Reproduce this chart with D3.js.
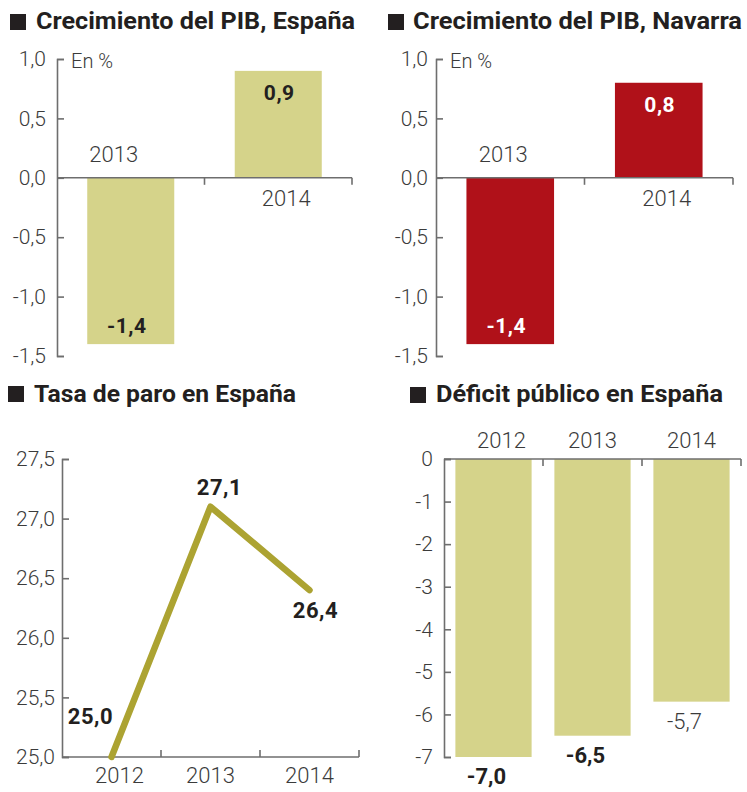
<!DOCTYPE html>
<html>
<head>
<meta charset="utf-8">
<script src="https://cdn.jsdelivr.net/npm/d3@7"></script>
<style>
  body { margin: 0; background: #fff; }
  svg { display: block; }
  .tick text, .lbl { font-family: Roboto, "Liberation Sans", sans-serif; font-weight: 300; fill: #3b3b3b; }
  .ttl { font-family: Roboto, "Liberation Sans", sans-serif; font-weight: 700; fill: #231f20; }
  .val { font-family: Roboto, "Liberation Sans", sans-serif; font-weight: 700; }
</style>
</head>
<body>
<svg id="chart" width="747" height="792"></svg>
<script>
// GDP growth, %
const pibYears = ["2013", "2014"];
const pibEspana = [-1.4, 0.9];
const pibNavarra = [-1.4, 0.8];
const pibTicks = [1.0, 0.5, 0.0, -0.5, -1.0, -1.5];

// unemployment rate, %
const paroYears = ["2012", "2013", "2014"];
const paroValues = [25.0, 27.1, 26.4];
const paroTicks = [25.0, 25.5, 26.0, 26.5, 27.0, 27.5];

// public deficit, % of GDP
const deficitYears = ["2012", "2013", "2014"];
const deficitValues = [-7.0, -6.5, -5.7];
const deficitTicks = [0, -1, -2, -3, -4, -5, -6, -7];

const titles = ["Crecimiento del PIB, España", "Crecimiento del PIB, Navarra",
                "Tasa de paro en España", "Déficit público en España"];

const olive = "#d5d38a", red = "#b01119", lineColor = "#aca332", axisColor = "#6e6e6e";
// spanish decimal comma, plain hyphen for negatives
const fmt1 = d => d3.format(".1f")(d).replace(".", ",").replace("\u2212", "-");
const fmt0 = d => d3.format("d")(d).replace("\u2212", "-");

const svg = d3.select("#chart");

function title(txt, sq, x, y, len) {
    svg.append("rect").attr("x", sq[0]).attr("y", sq[1]).attr("width", 16).attr("height", 16).attr("fill", "#231f20");
    svg.append("text").attr("class", "ttl").attr("x", x).attr("y", y)
        .attr("font-size", 23).attr("textLength", len).attr("lengthAdjust", "spacingAndGlyphs")
        .text(txt);
}

function yAxis(y, x0, ticks, f, pad) {
    const g = svg.append("g").attr("transform", `translate(${x0},0)`)
        .call(d3.axisLeft(y).tickValues(ticks).tickFormat(f)
            .tickSizeInner(-7).tickSizeOuter(-7).tickPadding(pad));
    g.selectAll("path, line").attr("stroke", axisColor).attr("stroke-width", 1.6);
    g.selectAll("text").attr("font-size", 21);
    return g;
}

// category baseline with ticks at slot boundaries
function catAxis(x, y0, n, dir) {
    const g = svg.append("g");
    const [a, b] = x.range();
    g.append("line").attr("x1", a).attr("x2", b).attr("y1", y0).attr("y2", y0)
        .attr("stroke", axisColor).attr("stroke-width", 1.6);
    d3.range(1, n + 1).forEach(i => {
        const xx = a + x.step() * i;
        g.append("line").attr("x1", xx).attr("x2", xx).attr("y1", y0).attr("y2", y0 + dir * 7)
            .attr("stroke", axisColor).attr("stroke-width", 1.6);
    });
}

// ---- GDP panels ----
function pibPanel(values, x0, x1, color, valColor, pad, yearOffsets) {
    const y = d3.scaleLinear().domain([-1.5, 1]).range([356, 59]);
    const x = d3.scaleBand().domain(pibYears).range([x0, x1]).paddingInner(0.41).paddingOuter(0.205);

    svg.append("g").selectAll("rect").data(values).join("rect")
        .attr("x", (d, i) => x(pibYears[i]))
        .attr("y", d => y(Math.max(0, d)))
        .attr("width", x.bandwidth())
        .attr("height", d => Math.abs(y(d) - y(0)))
        .attr("fill", color);

    yAxis(y, x0, pibTicks, fmt1, pad);
    catAxis(x, y(0), pibYears.length, 1);

    svg.append("text").attr("class", "lbl").attr("x", x0 + 14).attr("y", 68)
        .attr("font-size", 20).text("En %");

    // year labels: above zero for negative bars, below for positive
    svg.append("g").selectAll("text").data(values).join("text")
        .attr("class", "lbl").attr("font-size", 22).attr("text-anchor", "middle")
        .attr("x", (d, i) => x(pibYears[i]) + x.bandwidth() / 2 + yearOffsets[i])
        .attr("y", d => d < 0 ? y(0) - 16 : y(0) + 28)
        .text((d, i) => pibYears[i]);

    svg.append("g").selectAll("text").data(values).join("text")
        .attr("class", "val").attr("font-size", 21).attr("fill", valColor).attr("text-anchor", "middle")
        .attr("letter-spacing", 0.5)
        .attr("x", (d, i) => x(pibYears[i]) + x.bandwidth() / 2 + (d < 0 ? -4 : 1))
        .attr("y", d => d < 0 ? y(d) - 11 : y(d) + 29)
        .text(fmt1);
}

title(titles[0], [10, 14], 36, 29, 319);
pibPanel(pibEspana, 57, 352, olive, "#231f20", 11, [-17, 8]);
title(titles[1], [388, 14], 413, 29, 329);
pibPanel(pibNavarra, 436, 733, red, "#ffffff", 8, [-7, 8]);

// ---- Unemployment line ----
{
    title(titles[2], [8, 386], 34, 402, 262);
    const y = d3.scaleLinear().domain([25, 27.5]).range([757, 459]);
    const x = d3.scaleBand().domain(paroYears).range([62, 359]);
    const cx = d => x(d) + x.bandwidth() / 2;

    yAxis(y, 62, paroTicks, fmt1, 7);
    catAxis(x, y(25), paroYears.length, -1);

    svg.append("g").selectAll("text").data(paroYears).join("text")
        .attr("class", "lbl").attr("font-size", 22).attr("text-anchor", "middle")
        .attr("x", (d, i) => cx(d) + (i === 0 ? 8 : 0)).attr("y", 783).text(d => d);

    const line = d3.line().x((d, i) => cx(paroYears[i])).y(d => y(d));
    svg.append("path").datum(paroValues).attr("d", line)
        .attr("fill", "none").attr("stroke", lineColor).attr("stroke-width", 6.5)
        .attr("stroke-linecap", "round").attr("stroke-linejoin", "round");

    const offs = [[-21, -33], [9, -12], [6, 28]];
    svg.append("g").selectAll("text").data(paroValues).join("text")
        .attr("class", "val").attr("font-size", 22).attr("fill", "#231f20").attr("text-anchor", "middle")
        .attr("letter-spacing", 0.5)
        .attr("x", (d, i) => cx(paroYears[i]) + offs[i][0])
        .attr("y", (d, i) => y(d) + offs[i][1])
        .text(fmt1);
}

// ---- Deficit bars ----
{
    title(titles[3], [410, 387], 436, 402, 287);
    const y = d3.scaleLinear().domain([-7, 0]).range([757, 459]);
    const x = d3.scaleBand().domain(deficitYears).range([444, 741]).paddingInner(0.23).paddingOuter(0.115);

    svg.append("g").selectAll("rect").data(deficitValues).join("rect")
        .attr("x", (d, i) => x(deficitYears[i]))
        .attr("y", y(0))
        .attr("width", x.bandwidth())
        .attr("height", d => y(d) - y(0))
        .attr("fill", olive);

    yAxis(y, 444, deficitTicks, fmt0, 11);
    catAxis(x, y(0), deficitYears.length, 1);

    svg.append("g").selectAll("text").data(deficitYears).join("text")
        .attr("class", "lbl").attr("font-size", 22).attr("text-anchor", "middle")
        .attr("x", (d, i) => x(d) + x.bandwidth() / 2 + (i === 0 ? 8 : 0)).attr("y", 448).text(d => d);

    // the 2014 figure is a forecast, set in light type
    svg.append("g").selectAll("text").data(deficitValues).join("text")
        .attr("class", (d, i) => i === 2 ? "lbl" : "val")
        .attr("font-size", 22).attr("fill", (d, i) => i === 2 ? "#3b3b3b" : "#231f20")
        .attr("text-anchor", "middle")
        .attr("x", (d, i) => x(deficitYears[i]) + x.bandwidth() / 2 - 7)
        .attr("y", d => y(d) + 27)
        .text(fmt1);
}
</script>
</body>
</html>
